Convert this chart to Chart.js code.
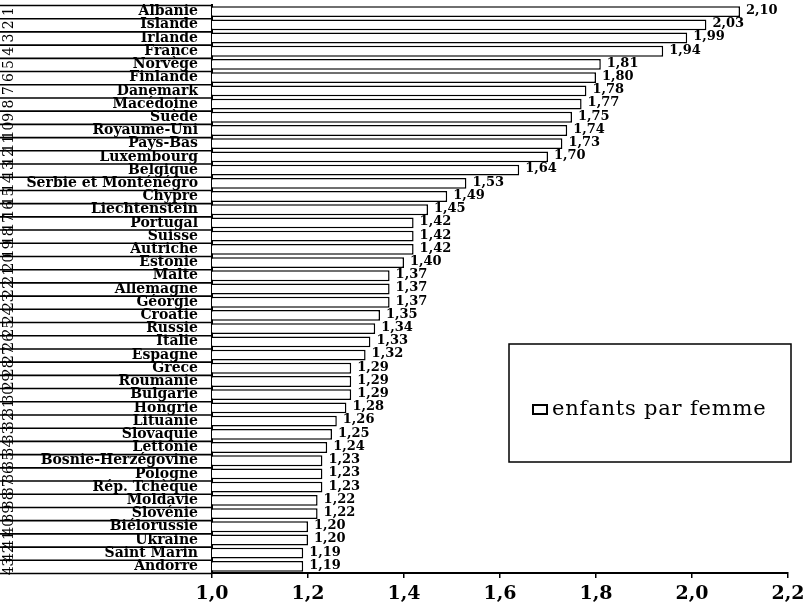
<!DOCTYPE html>
<html><head><meta charset="utf-8">
<script src="https://cdn.jsdelivr.net/npm/chart.js@4/dist/chart.umd.min.js"></script>
<style>html,body{margin:0;padding:0;background:#fff}#wrap{width:812px;height:606px}</style>
</head><body><div id="wrap"><canvas id="c" width="812" height="606"></canvas></div>
<script>
const countries = ["Albanie","Islande","Irlande","France","Norvège","Finlande","Danemark","Macédoine","Suède","Royaume-Uni","Pays-Bas","Luxembourg","Belgique","Serbie et Monténégro","Chypre","Liechtenstein","Portugal","Suisse","Autriche","Estonie","Malte","Allemagne","Géorgie","Croatie","Russie","Italie","Espagne","Grèce","Roumanie","Bulgarie","Hongrie","Lituanie","Slovaquie","Lettonie","Bosnie-Herzégovine","Pologne","Rép. Tchèque","Moldavie","Slovénie","Biélorussie","Ukraine","Saint Marin","Andorre"];
const values = [2.10,2.03,1.99,1.94,1.81,1.80,1.78,1.77,1.75,1.74,1.73,1.70,1.64,1.53,1.49,1.45,1.42,1.42,1.42,1.40,1.37,1.37,1.37,1.35,1.34,1.33,1.32,1.29,1.29,1.29,1.28,1.26,1.25,1.24,1.23,1.23,1.23,1.22,1.22,1.20,1.20,1.19,1.19];
const ranks = ["1","2","3","4","5","6","7","8","9","10","11","12","13","14","15","16","17","18","19","20","21","22","23","24","25","26","27","28","29","30","31","32","33","34","35","36","37","38","39","40","41","42","43"];
const seriesName = "enfants par femme";
const xMin = 1.0, xMax = 2.2, xStep = 0.2;

const SERIF = '"DejaVu Serif", "Liberation Serif", serif';
const fmt = (v, d) => Number(v).toFixed(d).replace('.', ',');

const tablePlugin = {
  id: 'table',
  afterDraw(chart) {
    const ctx = chart.ctx, y = chart.scales.y, area = chart.chartArea;
    const n = countries.length;
    const bounds = [];
    for (let i = 0; i <= n; i++) {
      let p;
      if (i === 0) p = y.top;
      else if (i === n) p = y.bottom;
      else p = (y.getPixelForValue(i - 1) + y.getPixelForValue(i)) / 2;
      bounds.push(p);
    }
    ctx.save();
    ctx.strokeStyle = '#000';
    ctx.lineWidth = 1.6;
    bounds.forEach(b => {
      ctx.beginPath(); ctx.moveTo(0, b + 0.5); ctx.lineTo(area.left, b + 0.5); ctx.stroke();
    });
    ctx.fillStyle = '#000';
    ctx.font = '14px ' + SERIF;
    ctx.textAlign = 'center';
    ctx.textBaseline = 'middle';
    ranks.forEach((r, i) => {
      const cy = y.getPixelForValue(i);
      ctx.save();
      ctx.translate(9, cy);
      ctx.rotate(-Math.PI / 2);
      ctx.fillText(r, 0, 0);
      ctx.restore();
    });
    // values
    const meta = chart.getDatasetMeta(0);
    ctx.font = 'bold 13px ' + SERIF;
    ctx.textAlign = 'left';
    meta.data.forEach((el, i) => {
      ctx.fillText(fmt(values[i], 2), el.x + 6, el.y - 1);
    });
    // legend box
    const lx = 509, ly = 344, lw = 282, lh = 118;
    ctx.fillStyle = '#fff';
    ctx.fillRect(lx, ly, lw, lh);
    ctx.lineWidth = 1.5;
    ctx.strokeRect(lx, ly, lw, lh);
    ctx.lineWidth = 2;
    ctx.strokeRect(533, 405, 14, 9);
    ctx.fillStyle = '#000';
    ctx.font = '21px ' + SERIF;
    ctx.textBaseline = 'middle';
    try { ctx.letterSpacing = '0.8px'; } catch (e) {}
    ctx.fillText(chart.data.datasets[0].label, 552, 410);
    ctx.restore();
  }
};

new Chart(document.getElementById('c'), {
  type: 'bar',
  data: {
    labels: countries,
    datasets: [{
      label: seriesName,
      data: values,
      backgroundColor: '#fff',
      borderColor: '#000',
      borderWidth: 1.5,
      borderSkipped: false,
      barPercentage: 0.82,
      categoryPercentage: 1.0
    }]
  },
  options: {
    indexAxis: 'y',
    responsive: false,
    devicePixelRatio: 1,
    animation: false,
    layout: { padding: { top: 5, right: 24, left: 0, bottom: 0 } },
    plugins: { legend: { display: false }, tooltip: { enabled: false } },
    scales: {
      x: {
        min: xMin, max: xMax,
        ticks: {
          stepSize: xStep,
          color: '#000',
          font: { family: SERIF, size: 19, weight: 'bold' },
          padding: 5,
          maxRotation: 0,
          callback: v => fmt(v, 1)
        },
        grid: { drawOnChartArea: false, drawTicks: true, tickLength: 5, color: '#000', lineWidth: 1.5 },
        border: { display: true, color: '#000', width: 2 },
        afterFit: s => { s.height = 33; }
      },
      y: {
        ticks: {
          color: '#000',
          font: { family: SERIF, size: 14, weight: 'bold' },
          padding: 6,
          autoSkip: false
        },
        grid: { display: false },
        border: { display: true, color: '#000', width: 2 },
        afterFit: s => { s.width = 212; s.paddingTop = 0; s.paddingBottom = 0; }
      }
    }
  },
  plugins: [tablePlugin]
});
</script>
</body></html>
